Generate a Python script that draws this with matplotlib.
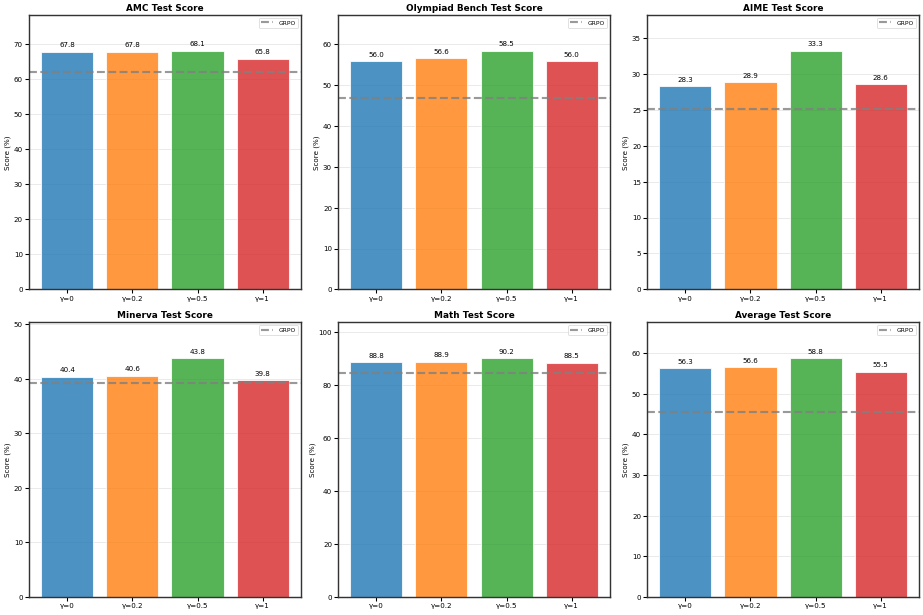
import matplotlib
matplotlib.use('Agg')
import matplotlib.pyplot as plt
import numpy as np

# gamma settings
labels = ['γ=0', 'γ=0.2', 'γ=0.5', 'γ=1']
colors = ['#1f77b4', '#ff7f0e', '#2ca02c', '#d62728']

titles = ['AMC Test Score', 'Olympiad Bench Test Score', 'AIME Test Score',
          'Minerva Test Score', 'Math Test Score', 'Average Test Score']

amc = [67.8, 67.8, 68.1, 65.8]
olympiad = [56.0, 56.6, 58.5, 56.0]
aime = [28.3, 28.9, 33.3, 28.6]
minerva = [40.4, 40.6, 43.8, 39.8]
math = [88.8, 88.9, 90.2, 88.5]
average = [56.3, 56.6, 58.8, 55.5]

grpo = [62.0, 47.0, 25.1, 39.3, 84.5, 45.5]

scores = [amc, olympiad, aime, minerva, math, average]

fig, axes = plt.subplots(2, 3, figsize=(18, 12), dpi=923 / 18)

for ax, title, vals, base in zip(axes.flat, titles, scores, grpo):
    x = np.arange(len(labels))
    bars = ax.bar(x, vals, color=colors, alpha=0.8, edgecolor='white', linewidth=1.5)
    ax.axhline(base, color='gray', linestyle='--', linewidth=3, alpha=0.8, label='GRPO')

    for bar, v in zip(bars, vals):
        ax.annotate(f'{v:.1f}',
                    xy=(bar.get_x() + bar.get_width() / 2, bar.get_height()),
                    xytext=(0, 5), textcoords='offset points',
                    ha='center', va='bottom', fontsize=10)

    ax.set_title(title, fontsize=12.5, fontweight='bold')
    ax.set_ylabel('Score (%)', fontsize=10)
    ax.set_xticks(x)
    ax.set_xticklabels(labels, fontsize=10)
    ax.tick_params(axis='y', labelsize=10)
    ax.tick_params(width=1.5, length=5)
    ax.set_ylim(0, max(vals) * 1.15)
    ax.grid(axis='y', alpha=0.3, linewidth=1.2)
    ax.set_axisbelow(True)
    for s in ax.spines.values():
        s.set_linewidth(2)
        s.set_color('#333333')
    ax.legend(loc='upper right', fontsize=8.5)

fig.subplots_adjust(left=0.0314, right=0.9957, top=0.9755, bottom=0.0294,
                    wspace=0.136, hspace=0.12)
fig.savefig('out.png', dpi=923 / 18)
